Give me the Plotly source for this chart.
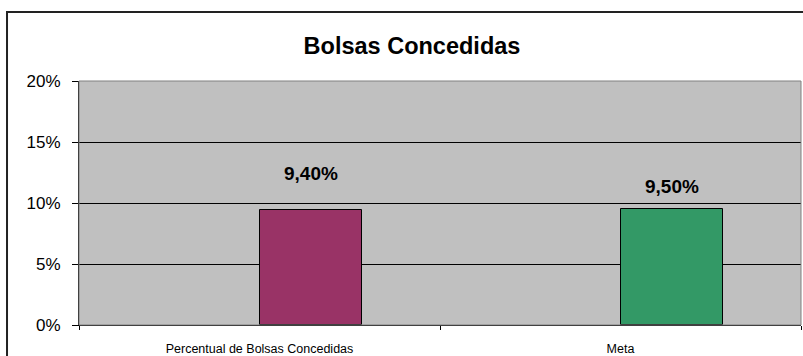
import plotly.graph_objects as go

# Chart data
categories = ["Percentual de Bolsas Concedidas", "Meta"]
values = [0.094, 0.095]
bar_colors = ["#993366", "#339966"]
label_shifts = [37, 23]  # vertical offset of each value label above its bar (px)
y_ticks = [0, 0.05, 0.10, 0.15, 0.20]
y_tick_text = ["0%", "5%", "10%", "15%", "20%"]

value_text = [f"{v * 100:.2f}%".replace(".", ",") for v in values]

FONT = "Liberation Sans, Arial, sans-serif"
BAR_WIDTH = 0.285

fig = go.Figure()
fig.add_trace(go.Bar(
    x=categories,
    y=values,
    width=[BAR_WIDTH] * len(values),
    offset=[0] * len(values),
    marker=dict(color=bar_colors, line=dict(color="black", width=1)),
    hoverinfo="skip",
    showlegend=False,
))

for i, (v, t, s) in enumerate(zip(values, value_text, label_shifts)):
    fig.add_annotation(
        x=i + BAR_WIDTH / 2, y=v, xref="x", yref="y",
        text=f"<b>{t}</b>", showarrow=False,
        yanchor="middle", yshift=s,
        font=dict(family=FONT, size=19, color="black"),
    )

# plot-area frame (grey) and the outer chart border
fig.add_shape(type="rect", xref="paper", yref="paper", x0=0, x1=1, y0=0, y1=1,
              line=dict(color="#808080", width=1), layer="above")
fig.add_shape(type="rect", xref="paper", yref="paper",
              x0=-0.0997, x1=1.2, y0=-0.3, y1=1.2828,
              line=dict(color="#222222", width=2), layer="above")

fig.update_layout(
    width=803, height=356,
    margin=dict(l=79, r=2, t=81, b=31),
    paper_bgcolor="white",
    plot_bgcolor="#C0C0C0",
    title=dict(
        text="<b>Bolsas Concedidas</b>",
        x=412 / 803, xanchor="center", xref="container",
        y=1 - 46 / 356, yanchor="middle", yref="container",
        font=dict(family=FONT, size=23.5, color="black"),
    ),
    bargap=0,
    xaxis=dict(
        type="category",
        range=[-0.5, 1.5],
        automargin=False,
        showgrid=False,
        showline=True, linecolor="black", linewidth=1,
        ticks="outside", tickson="boundaries", ticklen=4, tickcolor="black",
        ticklabelstandoff=12,
        tickfont=dict(family=FONT, size=12.5, color="black"),
        fixedrange=True,
    ),
    yaxis=dict(
        range=[0, 0.20],
        automargin=False,
        tickvals=y_ticks, ticktext=y_tick_text,
        showgrid=True, gridcolor="black", gridwidth=1,
        zeroline=False,
        showline=True, linecolor="black", linewidth=1,
        ticks="outside", ticklen=6, tickcolor="black",
        ticklabelstandoff=8,
        tickfont=dict(family=FONT, size=17, color="black"),
        fixedrange=True,
    ),
)

fig.write_html("out.html")
